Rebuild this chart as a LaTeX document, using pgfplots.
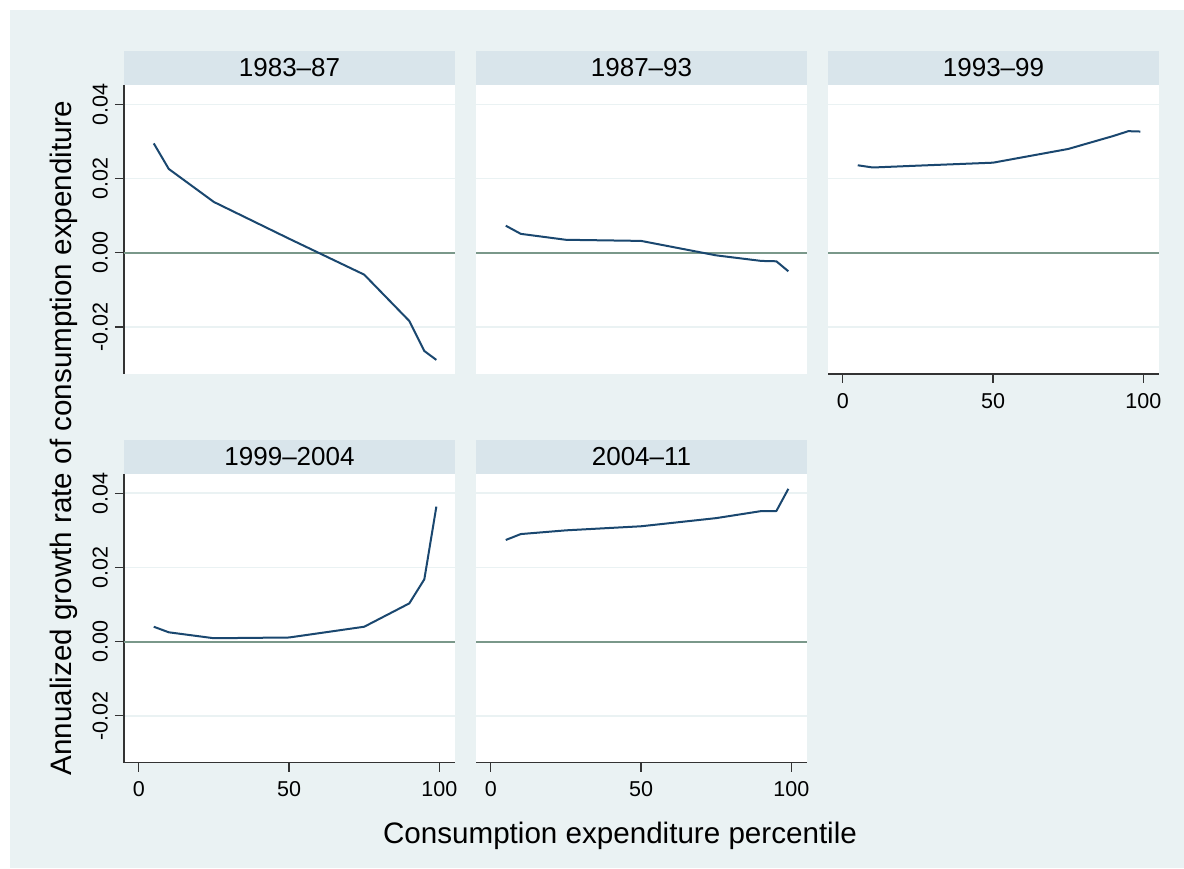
\documentclass[border=0pt]{standalone}
\usepackage{fontspec}
\setmainfont{Liberation Sans}
\usepackage{pgfplots}
\pgfplotsset{compat=1.18}

\definecolor{bg}{HTML}{EAF2F3}
\definecolor{hdr}{HTML}{D9E5EB}
\definecolor{navy}{HTML}{1A476F}
\definecolor{refl}{RGB}{122,152,138}

\newcommand{\ticksize}{\fontsize{10.75}{12}\selectfont}
\newcommand{\hdrsize}{\fontsize{13}{15}\selectfont}
\newcommand{\titlesize}{\fontsize{14.8}{17}\selectfont}

\pgfplotsset{
  panel/.style={
    scale only axis,
    width=165.5pt, height=144.4pt,
    anchor=south west,
    xmin=-4.9, xmax=105.2,
    ymin=-0.0327, ymax=0.0452,
    axis background/.style={fill=white},
    axis x line*=bottom, axis y line*=left,
    axis line style={black!80, line width=0.6pt},
    xtick={0,50,100}, xticklabels={0,50,100},
    ytick={-0.02,0,0.02,0.04}, yticklabels={-0.02,0.00,0.02,0.04},
    scaled y ticks=false, scaled x ticks=false,
    ymajorgrids, grid style={bg, line width=0.8pt},
    tick align=outside, major tick length=4.5pt,
    tick style={black!80, line width=0.6pt},
    tick label style={font=\ticksize},
    yticklabel style={rotate=90, anchor=south},
    xticklabel style={yshift=-1.5pt},
    clip=false,
  },
  noxaxis/.style={x axis line style={draw=none}, xtick=\empty},
  noyaxis/.style={y axis line style={draw=none}, ytick style={draw=none}, yticklabels={}},
  series/.style={navy, line width=1pt, line join=round, no marks},
  zero/.style={refl, line width=1pt, no marks, forget plot},
}

% header strip above a panel
\newcommand{\header}[2]{%
  \fill[hdr] (#1.north west) rectangle ([yshift=17pt]#1.north east);
  \node[anchor=base, font=\hdrsize] at ([yshift=4.2pt]#1.north) {#2};
}

\begin{document}
\begin{tikzpicture}
\useasboundingbox (0,0) rectangle (592pt,434pt);
\fill[white] (0,0) rectangle (592pt,434pt);
\fill[bg] (5pt,0) rectangle (592pt,429pt);

% row 1
\begin{axis}[panel, noxaxis, name=p1, at={(62pt,247pt)}]
\addplot[zero] coordinates {(-4.9,0) (105.2,0)};
\addplot[series] coordinates {(5,0.0295) (10,0.0226) (25,0.0137) (50,0.0038) (75,-0.0059) (90,-0.0184) (95,-0.0265) (99,-0.0289)};
\end{axis}
\header{p1}{1983–87}

\begin{axis}[panel, noxaxis, noyaxis, name=p2, at={(238pt,247pt)}]
\addplot[zero] coordinates {(-4.9,0) (105.2,0)};
\addplot[series] coordinates {(5,0.0073) (10,0.0051) (25,0.0035) (50,0.0032) (75,-0.0007) (90,-0.0022) (95,-0.0023) (99,-0.0050)};
\end{axis}
\header{p2}{1987–93}

\begin{axis}[panel, noyaxis, name=p3, at={(414pt,247pt)}]
\addplot[zero] coordinates {(-4.9,0) (105.2,0)};
\addplot[series] coordinates {(5,0.0236) (10,0.0230) (25,0.0235) (50,0.0243) (75,0.0280) (90,0.0315) (95,0.0328) (99,0.0327)};
\end{axis}
\header{p3}{1993–99}

% row 2
\begin{axis}[panel, name=p4, at={(62pt,52.6pt)}]
\addplot[zero] coordinates {(-4.9,0) (105.2,0)};
\addplot[series] coordinates {(5,0.0040) (10,0.0025) (25,0.0009) (50,0.0011) (75,0.0040) (90,0.0103) (95,0.0168) (99,0.0364)};
\end{axis}
\header{p4}{1999–2004}

\begin{axis}[panel, noyaxis, name=p5, at={(238pt,52.6pt)}]
\addplot[zero] coordinates {(-4.9,0) (105.2,0)};
\addplot[series] coordinates {(5,0.0274) (10,0.0290) (25,0.0300) (50,0.0311) (75,0.0333) (90,0.0352) (95,0.0352) (99,0.0412)};
\end{axis}
\header{p5}{2004–11}

% common axis titles
\node[anchor=base, font=\titlesize] at (310pt,12.3pt) {Consumption expenditure percentile};
\node[anchor=base, rotate=90, font=\titlesize] at (35.85pt,215pt) {Annualized growth rate of consumption expenditure};
\end{tikzpicture}
\end{document}
